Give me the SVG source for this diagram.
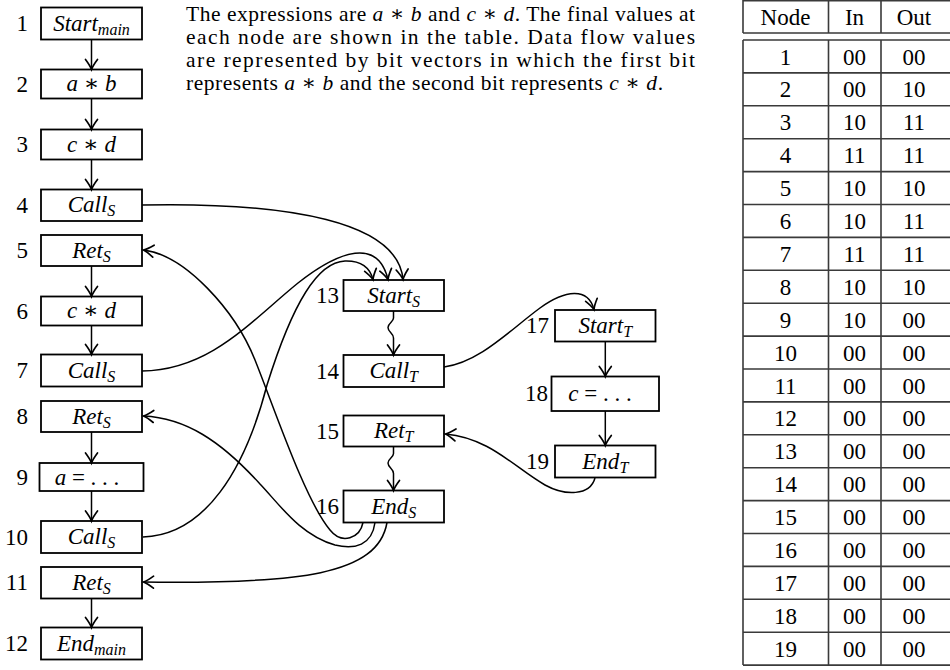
<svg xmlns="http://www.w3.org/2000/svg" width="950" height="670" viewBox="0 0 950 670">
  <defs>
    <style>
      .box { fill: #fff; stroke: #000; stroke-width: 1.8; }
      .edge { fill: none; stroke: #000; stroke-width: 1.5; marker-end: url(#ah); }
      .t { font-family: "Liberation Serif", "DejaVu Serif", serif; font-size: 23px; fill: #000; }
      .c { text-anchor: middle; }
      .num { text-anchor: end; }
      .it { font-style: italic; }
      .sub { font-size: 16px; font-style: italic; }
      .para { font-family: "Liberation Serif", "DejaVu Serif", serif; font-size: 21.5px; fill: #000; }
      .grid { stroke: #3a3a3a; stroke-width: 1.6; fill: none; }
    </style>
    <marker id="ah" markerUnits="userSpaceOnUse" markerWidth="16" markerHeight="16" viewBox="-12 -8 16 16" refX="0" refY="0" orient="auto" overflow="visible">
      <path d="M-10,-6 C-6,-3 -2.8,-1 0,0 C-2.8,1 -6,3 -10,6" fill="none" stroke="#000" stroke-width="1.7" stroke-linecap="round"/>
    </marker>
  </defs>

  <!-- explanatory paragraph -->
  <g id="caption">
    <text class="para" x="186" y="20.5" textLength="509" lengthAdjust="spacing">The expressions are <tspan class="it">a</tspan> ∗ <tspan class="it">b</tspan> and <tspan class="it">c</tspan> ∗ <tspan class="it">d</tspan>. The final values at</text>
    <text class="para" x="186" y="43.8" textLength="509" lengthAdjust="spacing">each node are shown in the table. Data flow values</text>
    <text class="para" x="186" y="67.1" textLength="509" lengthAdjust="spacing">are represented by bit vectors in which the first bit</text>
    <text class="para" x="186" y="90.4" textLength="477" lengthAdjust="spacing">represents <tspan class="it">a</tspan> ∗ <tspan class="it">b</tspan> and the second bit represents <tspan class="it">c</tspan> ∗ <tspan class="it">d</tspan>.</text>
  </g>

  <!-- procedure main -->
  <g id="n1"><rect class="box" x="41" y="7.5" width="101" height="32"/><text class="t num" x="28" y="31">1</text><text class="t c" x="91.5" y="30.5"><tspan class="it">Start</tspan><tspan class="sub" dy="4">main</tspan></text></g>
  <g id="n2"><rect class="box" x="41" y="69.5" width="101" height="29"/><text class="t num" x="28" y="91.5">2</text><text class="t c" x="91.5" y="91"><tspan class="it">a</tspan> ∗ <tspan class="it">b</tspan></text></g>
  <g id="n3"><rect class="box" x="41" y="129.5" width="101" height="30"/><text class="t num" x="28" y="152">3</text><text class="t c" x="91.5" y="151.5"><tspan class="it">c</tspan> ∗ <tspan class="it">d</tspan></text></g>
  <g id="n4"><rect class="box" x="41" y="189.5" width="101" height="31.5"/><text class="t num" x="28" y="212.5">4</text><text class="t c" x="91.5" y="212"><tspan class="it">Call</tspan><tspan class="sub" dy="4">S</tspan></text></g>
  <g id="n5"><rect class="box" x="41" y="235" width="101" height="31"/><text class="t num" x="28" y="258">5</text><text class="t c" x="91.5" y="257.5"><tspan class="it">Ret</tspan><tspan class="sub" dy="4">S</tspan></text></g>
  <g id="n6"><rect class="box" x="41" y="296.5" width="101" height="29"/><text class="t num" x="28" y="318.5">6</text><text class="t c" x="91.5" y="318"><tspan class="it">c</tspan> ∗ <tspan class="it">d</tspan></text></g>
  <g id="n7"><rect class="box" x="41" y="354.5" width="101" height="32"/><text class="t num" x="28" y="378">7</text><text class="t c" x="91.5" y="377.5"><tspan class="it">Call</tspan><tspan class="sub" dy="4">S</tspan></text></g>
  <g id="n8"><rect class="box" x="41" y="401" width="101" height="31"/><text class="t num" x="28" y="424">8</text><text class="t c" x="91.5" y="423.5"><tspan class="it">Ret</tspan><tspan class="sub" dy="4">S</tspan></text></g>
  <g id="n9"><rect class="box" x="39.5" y="463" width="104" height="28"/><text class="t num" x="28" y="485">9</text><text class="t c" x="87" y="484.5"><tspan class="it">a</tspan> = . . .</text></g>
  <g id="n10"><rect class="box" x="41" y="521" width="101" height="32"/><text class="t num" x="28" y="544.5">10</text><text class="t c" x="91.5" y="544"><tspan class="it">Call</tspan><tspan class="sub" dy="4">S</tspan></text></g>
  <g id="n11"><rect class="box" x="41" y="567" width="101" height="31.5"/><text class="t num" x="28" y="590">11</text><text class="t c" x="91.5" y="589.5"><tspan class="it">Ret</tspan><tspan class="sub" dy="4">S</tspan></text></g>
  <g id="n12"><rect class="box" x="41" y="627.5" width="101" height="32"/><text class="t num" x="28" y="651">12</text><text class="t c" x="91.5" y="650.5"><tspan class="it">End</tspan><tspan class="sub" dy="4">main</tspan></text></g>

  <!-- procedure S -->
  <g id="n13"><rect class="box" x="343.5" y="280" width="100.5" height="31"/><text class="t num" x="339" y="303">13</text><text class="t c" x="393.7" y="302.5"><tspan class="it">Start</tspan><tspan class="sub" dy="4">S</tspan></text></g>
  <g id="n14"><rect class="box" x="343.5" y="355" width="100.5" height="32"/><text class="t num" x="339" y="378.5">14</text><text class="t c" x="393.7" y="378"><tspan class="it">Call</tspan><tspan class="sub" dy="4">T</tspan></text></g>
  <g id="n15"><rect class="box" x="343.5" y="415.5" width="100.5" height="31"/><text class="t num" x="339" y="438.5">15</text><text class="t c" x="393.7" y="438"><tspan class="it">Ret</tspan><tspan class="sub" dy="4">T</tspan></text></g>
  <g id="n16"><rect class="box" x="343.5" y="490.5" width="100.5" height="32"/><text class="t num" x="339" y="514">16</text><text class="t c" x="393.7" y="513.5"><tspan class="it">End</tspan><tspan class="sub" dy="4">S</tspan></text></g>

  <!-- procedure T -->
  <g id="n17"><rect class="box" x="555" y="310" width="100.5" height="31.5"/><text class="t num" x="549" y="333">17</text><text class="t c" x="605.3" y="332.5"><tspan class="it">Start</tspan><tspan class="sub" dy="4">T</tspan></text></g>
  <g id="n18"><rect class="box" x="551.5" y="376.5" width="107.5" height="34.5"/><text class="t num" x="548" y="401">18</text><text class="t c" x="600" y="400.5"><tspan class="it">c</tspan> = . . .</text></g>
  <g id="n19"><rect class="box" x="555" y="445.5" width="100.5" height="32"/><text class="t num" x="549" y="469">19</text><text class="t c" x="605.3" y="468.5"><tspan class="it">End</tspan><tspan class="sub" dy="4">T</tspan></text></g>

  <!-- control flow, call and return edges -->
  <g id="edges">
    <path class="edge" d="M91.5,39.5 V69.5"/>
    <path class="edge" d="M91.5,98.5 V129.5"/>
    <path class="edge" d="M91.5,159.5 V189.5"/>
    <path class="edge" d="M91.5,266 V296.5"/>
    <path class="edge" d="M91.5,325.5 V354.5"/>
    <path class="edge" d="M91.5,432 V463"/>
    <path class="edge" d="M91.5,491 V521"/>
    <path class="edge" d="M91.5,598.5 V627.5"/>
    <path class="edge" d="M605.3,341.5 V376.5"/>
    <path class="edge" d="M605.3,411 V445.5"/>
    <!-- intraprocedural summary paths -->
    <path class="edge" d="M393.5,311 L393.5,318 C393.5,322 388,323 388,327.5 C388,332 393.5,333 393.5,338 L393.5,355"/>
    <path class="edge" d="M393.5,446.5 L393.5,453.5 C393.5,457.5 388,458.5 388,463 C388,467.5 393.5,468.5 393.5,473.5 L393.5,490.5"/>
    <!-- calls -->
    <path class="edge" d="M142,205 C290,202 398,222 403,279.5"/>
    <path class="edge" d="M142,371 C210,370 250,322 298,283 C340,250 378,238 388,279.5"/>
    <path class="edge" d="M143,537 C205,535 245,470 267,385 C293,302 318,262 345,261 C362,260.5 370,268 373,279.5"/>
    <path class="edge" d="M444,367 C480,362 510,330 540,308 C565,290 588,287 594,309.5"/>
    <!-- returns -->
    <path class="edge" d="M363,522.5 C360,538 342,545 330,530 C305,500 275,410 255,360 C235,310 185,255 143.5,250"/>
    <path class="edge" d="M375,522.5 C372,545 355,550 335,545 C300,535 280,505 260,484 C220,440 185,418 143.5,416"/>
    <path class="edge" d="M387,522.5 C378,575 300,584 143.5,582"/>
    <path class="edge" d="M595,478 C590,496 565,496 545,485 C515,468 490,438 445.5,434"/>
  </g>

  <!-- result table -->
  <g id="table">
    <path class="grid" d="M743,0.8 H950 M743,0 V33 M828.5,0 V33 M881,0 V33 M743,33 H950"/>
    <text class="t c" x="785.5" y="25">Node</text>
    <text class="t c" x="854.5" y="25">In</text>
    <text class="t c" x="914" y="25">Out</text>
    <path class="grid" d="M743,40 V665.1 M828.5,40 V665.1 M881,40 V665.1
      M743,40 H950 M743,72.9 H950 M743,105.8 H950 M743,138.7 H950 M743,171.6 H950
      M743,204.5 H950 M743,237.4 H950 M743,270.3 H950 M743,303.2 H950 M743,336.1 H950
      M743,369 H950 M743,401.9 H950 M743,434.8 H950 M743,467.7 H950 M743,500.6 H950
      M743,533.5 H950 M743,566.4 H950 M743,599.3 H950 M743,632.2 H950 M743,665.1 H950"/>
    <g class="t c">
      <text x="785.5" y="64.5">1</text><text x="854.5" y="64.5">00</text><text x="914" y="64.5">00</text>
      <text x="785.5" y="97.4">2</text><text x="854.5" y="97.4">00</text><text x="914" y="97.4">10</text>
      <text x="785.5" y="130.3">3</text><text x="854.5" y="130.3">10</text><text x="914" y="130.3">11</text>
      <text x="785.5" y="163.2">4</text><text x="854.5" y="163.2">11</text><text x="914" y="163.2">11</text>
      <text x="785.5" y="196.1">5</text><text x="854.5" y="196.1">10</text><text x="914" y="196.1">10</text>
      <text x="785.5" y="229">6</text><text x="854.5" y="229">10</text><text x="914" y="229">11</text>
      <text x="785.5" y="261.9">7</text><text x="854.5" y="261.9">11</text><text x="914" y="261.9">11</text>
      <text x="785.5" y="294.8">8</text><text x="854.5" y="294.8">10</text><text x="914" y="294.8">10</text>
      <text x="785.5" y="327.7">9</text><text x="854.5" y="327.7">10</text><text x="914" y="327.7">00</text>
      <text x="785.5" y="360.6">10</text><text x="854.5" y="360.6">00</text><text x="914" y="360.6">00</text>
      <text x="785.5" y="393.5">11</text><text x="854.5" y="393.5">00</text><text x="914" y="393.5">00</text>
      <text x="785.5" y="426.4">12</text><text x="854.5" y="426.4">00</text><text x="914" y="426.4">00</text>
      <text x="785.5" y="459.3">13</text><text x="854.5" y="459.3">00</text><text x="914" y="459.3">00</text>
      <text x="785.5" y="492.2">14</text><text x="854.5" y="492.2">00</text><text x="914" y="492.2">00</text>
      <text x="785.5" y="525.1">15</text><text x="854.5" y="525.1">00</text><text x="914" y="525.1">00</text>
      <text x="785.5" y="558">16</text><text x="854.5" y="558">00</text><text x="914" y="558">00</text>
      <text x="785.5" y="590.9">17</text><text x="854.5" y="590.9">00</text><text x="914" y="590.9">00</text>
      <text x="785.5" y="623.8">18</text><text x="854.5" y="623.8">00</text><text x="914" y="623.8">00</text>
      <text x="785.5" y="656.7">19</text><text x="854.5" y="656.7">00</text><text x="914" y="656.7">00</text>
    </g>
  </g>
</svg>
